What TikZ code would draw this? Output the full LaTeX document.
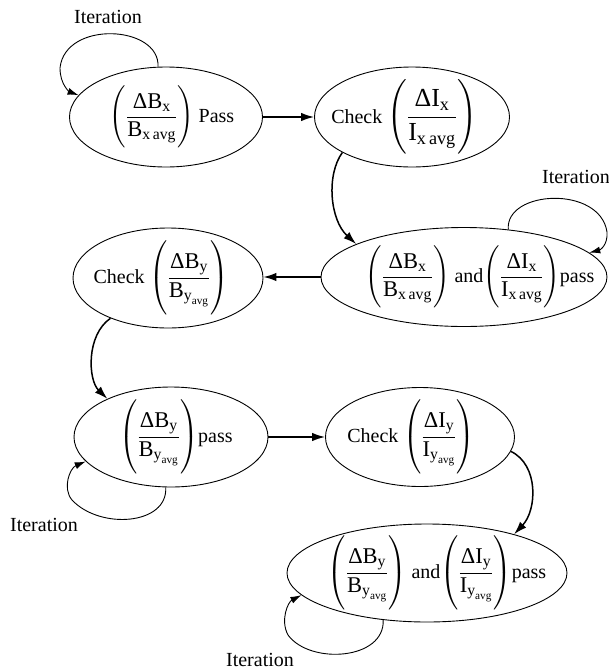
\documentclass[tikz,border=0pt]{standalone}
\usepackage{amsmath}
\usepackage{fontspec}
\setmainfont{Liberation Serif}
\usetikzlibrary{shapes.geometric,arrows.meta}
\delimiterfactor=1100
\delimitershortfall=-10pt
\newcommand\myfr[2]{\left(\dfrac{#1}{#2}\right)}
\newcommand\tx[1]{\text{#1}}
\newcommand\frs{\fontsize{22.5}{27}\selectfont}
\newcommand\frb{\fontsize{26}{31}\selectfont}
\begin{document}
\begin{tikzpicture}[x=1pt,y=-1pt,
  st/.style={draw, ellipse, line width=0.9pt, inner sep=0pt},
  lbl/.style={font=\fontsize{20}{24}\selectfont, inner sep=0pt},
  itl/.style={font=\fontsize{20}{24}\selectfont, inner sep=0pt},
  mainarr/.style={line width=1.5pt, -{Latex[length=13pt,width=8.5pt]}},
  looparr/.style={line width=0.9pt, -{Latex[length=11pt,width=7pt]}}]
\useasboundingbox (0,0) rectangle (609,672);

\node[st, minimum width=193pt, minimum height=100pt] (e1) at (166,117) {};
\node[st, minimum width=195pt, minimum height=100pt] (e2) at (412,117) {};
\node[st, minimum width=286pt, minimum height=99pt] (e3) at (464,277) {};
\node[st, minimum width=190pt, minimum height=100pt] (e4) at (168,278) {};
\node[st, minimum width=194pt, minimum height=100pt] (e5) at (171,437) {};
\node[st, minimum width=189pt, minimum height=99pt] (e6) at (420,437) {};
\node[st, minimum width=280pt, minimum height=98pt] (e7) at (427,573) {};

\node[lbl] (t1) at (172,117) {{\frs$\myfr{\tx{ΔB}_{\tx{x}}}{\tx{B}_{\tx{x\,avg}}}$} Pass};
\node[lbl] (t2) at (404,117) {Check {\frb$\myfr{\tx{ΔI}_{\tx{x}}}{\tx{I}_{\tx{x\,avg}}}$}};
\node[lbl] (t3) at (480,277) {{\frs$\myfr{\tx{ΔB}_{\tx{x}}}{\tx{B}_{\tx{x\,avg}}}$} and{\frs$\myfr{\tx{ΔI}_{\tx{x}}}{\tx{I}_{\tx{x\,avg}}}$}pass};
\node[lbl] (t4) at (161,278) {Check {\frs$\myfr{\tx{ΔB}_{\tx{y}}}{\tx{B}_{\tx{y}_{\tx{avg}}}}$}};
\node[lbl] (t5) at (176,437) {{\frs$\myfr{\tx{ΔB}_{\tx{y}}}{\tx{B}_{\tx{y}_{\tx{avg}}}}$}pass};
\node[lbl] (t6) at (411,437) {Check {\frs$\myfr{\tx{ΔI}_{\tx{y}}}{\tx{I}_{\tx{y}_{\tx{avg}}}}$}};
\node[lbl] (t7) at (437,573) {{\frs$\myfr{\tx{ΔB}_{\tx{y}}}{\tx{B}_{\tx{y}_{\tx{avg}}}}$} and{\frs$\myfr{\tx{ΔI}_{\tx{y}}}{\tx{I}_{\tx{y}_{\tx{avg}}}}$}pass};

\node[itl] (i1) at (108,17) {Iteration};
\node[itl] (i3) at (576,177) {Iteration};
\node[itl] (i5) at (44,525) {Iteration};
\node[itl] (i7) at (260,660) {Iteration};

\draw[mainarr] (e1.east) -- (e1.east -| e2.west);
\draw[mainarr] (e3.west) -- (e3.west -| e4.east);
\draw[mainarr] (e5.east) -- (e5.east -| e6.west);

\draw[mainarr] (e2.207) .. controls (326,175) and (330,220) .. (e3.163);
\draw[mainarr] (e4.215) .. controls (86,335) and (88,380) .. (e5.149);
\draw[mainarr] (e6.-9.5) .. controls (539,465) and (537,510) .. (e7.24);

\draw[looparr] (e1.99) .. controls (160,25) and (65,20) .. (60,68) .. controls (60,85) and (70,92) .. (e1.166);
\draw[looparr] (e3.47) .. controls (505,190) and (600,185) .. (607,232) .. controls (608,245) and (600,250) .. (e3.11);
\draw[looparr] (e5.264) .. controls (168,525) and (100,530) .. (72,500) .. controls (62,488) and (70,468) .. (e5.196);
\draw[looparr] (e7.227) .. controls (385,660) and (310,665) .. (288,635) .. controls (280,620) and (288,602) .. (e7.190);
\end{tikzpicture}
\end{document}
